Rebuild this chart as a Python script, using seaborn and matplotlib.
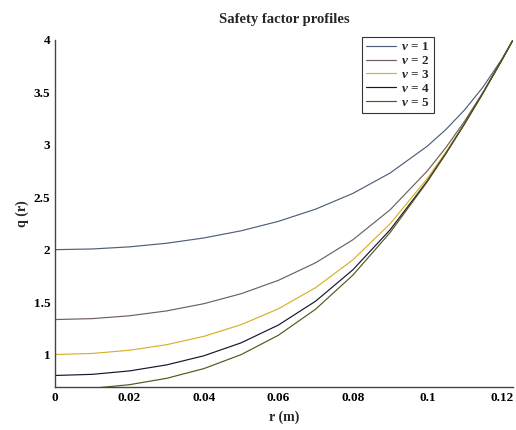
import numpy as np
import pandas as pd
import matplotlib
matplotlib.use("Agg")
import matplotlib.pyplot as plt
import seaborn as sns

r_m = [0.0, 0.01, 0.02, 0.03, 0.04, 0.05, 0.06, 0.07, 0.08, 0.09, 0.10, 0.105, 0.11, 0.115, 0.12, 0.123]
q_nu1 = [2.000, 2.0066, 2.0268, 2.0613, 2.1117, 2.1801, 2.2701, 2.3865, 2.5365, 2.7311, 2.9873, 3.1465, 3.3328, 3.5529, 3.8161, 4.0]
q_nu2 = [1.3333, 1.3422, 1.3692, 1.4159, 1.4848, 1.5800, 1.7074, 1.8751, 2.0944, 2.3803, 2.7511, 2.9743, 3.2250, 3.5036, 3.8077, 4.0]
q_nu3 = [1.0000, 1.0100, 1.0405, 1.0938, 1.1734, 1.2848, 1.4361, 1.6378, 1.9030, 2.2463, 2.6794, 2.9308, 3.2043, 3.4975, 3.8073, 4.0]
q_nu4 = [0.8000, 0.8107, 0.8434, 0.9010, 0.9880, 1.1115, 1.2810, 1.5087, 1.8077, 2.1890, 2.6558, 2.9192, 3.2002, 3.4967, 3.8073, 4.0]
q_nu5 = [0.6667, 0.6778, 0.7121, 0.7729, 0.8657, 0.9990, 1.1836, 1.4324, 1.7569, 2.1633, 2.6480, 2.9161, 3.1994, 3.4966, 3.8073, 4.0]
labels = [r"$\nu$ = 1", r"$\nu$ = 2", r"$\nu$ = 3", r"$\nu$ = 4", r"$\nu$ = 5"]
x_ticks = [0, 0.02, 0.04, 0.06, 0.08, 0.1, 0.12]
x_ticklabels = ["0", "0.02", "0.04", "0.06", "0.08", "0.1", "0.12"]
y_ticks = [1, 1.5, 2, 2.5, 3, 3.5, 4]
y_ticklabels = ["1", "1.5", "2", "2.5", "3", "3.5", "4"]

colors = ["#4f5f78", "#6e605e", "#d8b028", "#15152e", "#55561e"]

sns.set_style("white")
plt.rcParams["font.family"] = ["Liberation Serif", "DejaVu Serif"]
plt.rcParams["font.weight"] = "bold"
plt.rcParams["mathtext.fontset"] = "custom"
plt.rcParams["mathtext.it"] = "Liberation Serif:italic:bold"
plt.rcParams["mathtext.rm"] = "Liberation Serif:bold"

frames = []
for lab, q in zip(labels, [q_nu1, q_nu2, q_nu3, q_nu4, q_nu5]):
    frames.append(pd.DataFrame({"r": r_m, "q": q, "nu": lab}))
df = pd.concat(frames, ignore_index=True)

fig = plt.figure(figsize=(5.16, 4.30), dpi=100)
ax = fig.add_axes([0.1066, 0.10, 0.8875, 0.807])
sns.lineplot(data=df, x="r", y="q", hue="nu", palette=colors, ax=ax,
             linewidth=0.85, sort=False, estimator=None)

ax.set_xlim(0, 0.123)
ax.set_ylim(0.69, 4.0)
ax.set_xticks(x_ticks)
ax.set_xticklabels(x_ticklabels)
ax.set_yticks(y_ticks)
ax.set_yticklabels(y_ticklabels)
ax.tick_params(direction="in", length=4, width=0.8, labelsize=9.5, colors="#333333",
               labelcolor="black")
for lbl in ax.get_xticklabels() + ax.get_yticklabels():
    lbl.set_fontweight("bold")
for s in ["top", "right"]:
    ax.spines[s].set_visible(False)
for s in ["left", "bottom"]:
    ax.spines[s].set_color("#444444")
    ax.spines[s].set_linewidth(1.0)

ax.set_xlabel("r (m)", fontsize=10, fontweight="bold", labelpad=5)
ax.set_ylabel("q (r)", fontsize=10, fontweight="bold", labelpad=3)
ax.set_title("Safety factor profiles", fontsize=10.5, fontweight="bold", pad=12)

leg = ax.legend(loc="upper left", bbox_to_anchor=(0.67, 1.008), frameon=True,
                fancybox=False, edgecolor="black", fontsize=9.5, handlelength=2.3,
                borderpad=0.3, labelspacing=0.12, handletextpad=0.4,
                borderaxespad=0.0)
leg.get_frame().set_linewidth(0.8)
leg.set_title(None)
for t in leg.get_texts():
    t.set_fontweight("bold")

fig.savefig("out.png", dpi=100)
